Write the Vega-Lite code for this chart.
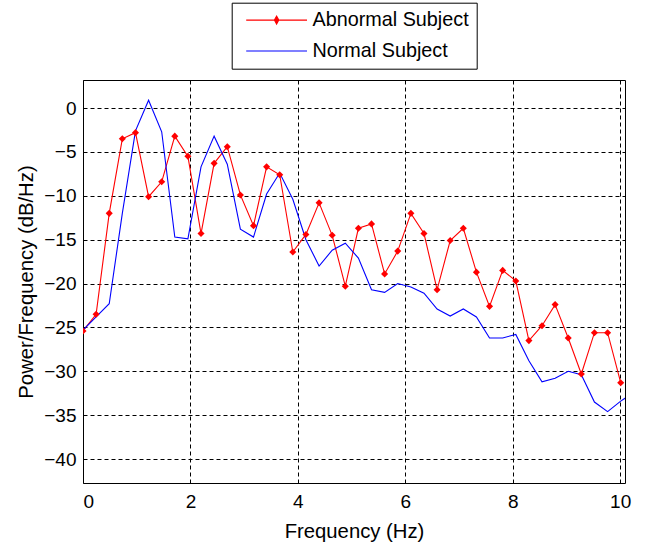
{
  "$schema": "https://vega.github.io/schema/vega-lite/v6.json",
  "width": 542,
  "height": 403,
  "autosize": {"type": "none"},
  "padding": {"left": 83, "top": 80, "right": 26, "bottom": 64},
  "background": "white",
  "config": {
    "view": {"stroke": "#000000", "strokeWidth": 1},
    "font": "Liberation Sans",
    "axis": {
      "labelFont": "Liberation Sans",
      "labelFontSize": 19,
      "labelColor": "#000000",
      "titleFont": "Liberation Sans",
      "titleFontSize": 20.3,
      "titleFontWeight": "normal",
      "titleColor": "#000000",
      "domain": false,
      "ticks": false,
      "gridColor": "#000000",
      "gridDash": [4, 3],
      "gridOpacity": 1,
      "gridWidth": 1
    }
  },
  "data": {
    "values": [
      {"f": 0, "p": -25.4, "s": "Abnormal Subject"},
      {"f": 0.244, "p": -23.5, "s": "Abnormal Subject"},
      {"f": 0.488, "p": -12.0, "s": "Abnormal Subject"},
      {"f": 0.732, "p": -3.5, "s": "Abnormal Subject"},
      {"f": 0.977, "p": -2.8, "s": "Abnormal Subject"},
      {"f": 1.221, "p": -10.1, "s": "Abnormal Subject"},
      {"f": 1.465, "p": -8.4, "s": "Abnormal Subject"},
      {"f": 1.709, "p": -3.2, "s": "Abnormal Subject"},
      {"f": 1.953, "p": -5.5, "s": "Abnormal Subject"},
      {"f": 2.197, "p": -14.3, "s": "Abnormal Subject"},
      {"f": 2.441, "p": -6.3, "s": "Abnormal Subject"},
      {"f": 2.686, "p": -4.4, "s": "Abnormal Subject"},
      {"f": 2.93, "p": -9.9, "s": "Abnormal Subject"},
      {"f": 3.174, "p": -13.4, "s": "Abnormal Subject"},
      {"f": 3.418, "p": -6.7, "s": "Abnormal Subject"},
      {"f": 3.662, "p": -7.6, "s": "Abnormal Subject"},
      {"f": 3.906, "p": -16.4, "s": "Abnormal Subject"},
      {"f": 4.15, "p": -14.4, "s": "Abnormal Subject"},
      {"f": 4.395, "p": -10.8, "s": "Abnormal Subject"},
      {"f": 4.639, "p": -14.5, "s": "Abnormal Subject"},
      {"f": 4.883, "p": -20.3, "s": "Abnormal Subject"},
      {"f": 5.127, "p": -13.7, "s": "Abnormal Subject"},
      {"f": 5.371, "p": -13.2, "s": "Abnormal Subject"},
      {"f": 5.615, "p": -18.9, "s": "Abnormal Subject"},
      {"f": 5.859, "p": -16.3, "s": "Abnormal Subject"},
      {"f": 6.104, "p": -12.0, "s": "Abnormal Subject"},
      {"f": 6.348, "p": -14.3, "s": "Abnormal Subject"},
      {"f": 6.592, "p": -20.7, "s": "Abnormal Subject"},
      {"f": 6.836, "p": -15.1, "s": "Abnormal Subject"},
      {"f": 7.08, "p": -13.7, "s": "Abnormal Subject"},
      {"f": 7.324, "p": -18.7, "s": "Abnormal Subject"},
      {"f": 7.568, "p": -22.6, "s": "Abnormal Subject"},
      {"f": 7.813, "p": -18.5, "s": "Abnormal Subject"},
      {"f": 8.057, "p": -19.7, "s": "Abnormal Subject"},
      {"f": 8.301, "p": -26.5, "s": "Abnormal Subject"},
      {"f": 8.545, "p": -24.8, "s": "Abnormal Subject"},
      {"f": 8.789, "p": -22.4, "s": "Abnormal Subject"},
      {"f": 9.033, "p": -26.2, "s": "Abnormal Subject"},
      {"f": 9.277, "p": -30.3, "s": "Abnormal Subject"},
      {"f": 9.521, "p": -25.6, "s": "Abnormal Subject"},
      {"f": 9.766, "p": -25.6, "s": "Abnormal Subject"},
      {"f": 10.01, "p": -31.3, "s": "Abnormal Subject"},
      {"f": 0, "p": -25.3, "s": "Normal Subject"},
      {"f": 0.244, "p": -23.8, "s": "Normal Subject"},
      {"f": 0.488, "p": -22.3, "s": "Normal Subject"},
      {"f": 0.732, "p": -12.0, "s": "Normal Subject"},
      {"f": 0.977, "p": -2.6, "s": "Normal Subject"},
      {"f": 1.221, "p": 0.9, "s": "Normal Subject"},
      {"f": 1.465, "p": -2.7, "s": "Normal Subject"},
      {"f": 1.709, "p": -14.7, "s": "Normal Subject"},
      {"f": 1.953, "p": -14.9, "s": "Normal Subject"},
      {"f": 2.197, "p": -6.7, "s": "Normal Subject"},
      {"f": 2.441, "p": -3.2, "s": "Normal Subject"},
      {"f": 2.686, "p": -6.4, "s": "Normal Subject"},
      {"f": 2.93, "p": -13.8, "s": "Normal Subject"},
      {"f": 3.174, "p": -14.7, "s": "Normal Subject"},
      {"f": 3.418, "p": -9.8, "s": "Normal Subject"},
      {"f": 3.662, "p": -7.4, "s": "Normal Subject"},
      {"f": 3.906, "p": -10.4, "s": "Normal Subject"},
      {"f": 4.15, "p": -15.0, "s": "Normal Subject"},
      {"f": 4.395, "p": -18.0, "s": "Normal Subject"},
      {"f": 4.639, "p": -16.2, "s": "Normal Subject"},
      {"f": 4.883, "p": -15.4, "s": "Normal Subject"},
      {"f": 5.127, "p": -17.1, "s": "Normal Subject"},
      {"f": 5.371, "p": -20.7, "s": "Normal Subject"},
      {"f": 5.615, "p": -21.0, "s": "Normal Subject"},
      {"f": 5.859, "p": -20.0, "s": "Normal Subject"},
      {"f": 6.104, "p": -20.4, "s": "Normal Subject"},
      {"f": 6.348, "p": -21.1, "s": "Normal Subject"},
      {"f": 6.592, "p": -22.9, "s": "Normal Subject"},
      {"f": 6.836, "p": -23.7, "s": "Normal Subject"},
      {"f": 7.08, "p": -22.9, "s": "Normal Subject"},
      {"f": 7.324, "p": -23.8, "s": "Normal Subject"},
      {"f": 7.568, "p": -26.2, "s": "Normal Subject"},
      {"f": 7.813, "p": -26.2, "s": "Normal Subject"},
      {"f": 8.057, "p": -25.8, "s": "Normal Subject"},
      {"f": 8.301, "p": -28.8, "s": "Normal Subject"},
      {"f": 8.545, "p": -31.2, "s": "Normal Subject"},
      {"f": 8.789, "p": -30.8, "s": "Normal Subject"},
      {"f": 9.033, "p": -30.0, "s": "Normal Subject"},
      {"f": 9.277, "p": -30.4, "s": "Normal Subject"},
      {"f": 9.521, "p": -33.5, "s": "Normal Subject"},
      {"f": 9.766, "p": -34.6, "s": "Normal Subject"},
      {"f": 10.01, "p": -33.4, "s": "Normal Subject"},
      {"f": 10.254, "p": -32.4, "s": "Normal Subject"}
    ]
  },
  "layer": [
    {
      "mark": {"type": "line", "strokeWidth": 1.1, "clip": true},
      "encoding": {
        "x": {
          "field": "f", "type": "quantitative",
          "scale": {"domain": [0, 10.09], "nice": false, "zero": false},
          "axis": {"orient": "bottom", "values": [0, 2, 4, 6, 8, 10], "title": "Frequency (Hz)", "labelPadding": 9, "titlePadding": 10, "grid": true}
        },
        "y": {
          "field": "p", "type": "quantitative",
          "scale": {"domain": [-42.73, 3.2], "nice": false, "zero": false},
          "axis": {"orient": "left", "values": [-40, -35, -30, -25, -20, -15, -10, -5, 0], "title": "Power/Frequency (dB/Hz)", "labelPadding": 7, "titlePadding": 7.5, "grid": true}
        },
        "color": {
          "field": "s", "type": "nominal",
          "scale": {"domain": ["Abnormal Subject", "Normal Subject"], "range": ["#ff0000", "#0000ff"]},
          "legend": {
            "title": null,
            "orient": "none",
            "legendX": 148.7,
            "legendY": -77.3,
            "direction": "vertical",
            "strokeColor": "#000000",
            "fillColor": "#ffffff",
            "padding": 7.5,
            "symbolOffset": 27.5,
            "symbolType": "M-7.6,0L7.6,0",
            "symbolSize": 64,
            "symbolStrokeWidth": 1.1,
            "labelFont": "Liberation Sans",
            "labelFontSize": 19.8,
            "labelColor": "#000000",
            "labelOffset": 26,
            "labelLimit": 400,
            "rowPadding": 9.9,
            "encode": {
              "symbols": {
                "update": {
                  "shape": {"signal": "datum.value === 'Abnormal Subject' ? 'M-7.6,0L7.6,0M-0.55,0L0,-1L0.55,0L0,1Z' : 'M-7.6,0L7.6,0'"},
                  "fill": {"signal": "datum.value === 'Abnormal Subject' ? '#ff0000' : 'transparent'"}
                }
              }
            }
          }
        }
      }
    },
    {
      "transform": [{"filter": "datum.s === 'Abnormal Subject'"}],
      "mark": {"type": "point", "shape": "diamond", "filled": true, "size": 50, "color": "#ff0000", "opacity": 1, "clip": true},
      "encoding": {
        "x": {"field": "f", "type": "quantitative"},
        "y": {"field": "p", "type": "quantitative"}
      }
    }
  ]
}
